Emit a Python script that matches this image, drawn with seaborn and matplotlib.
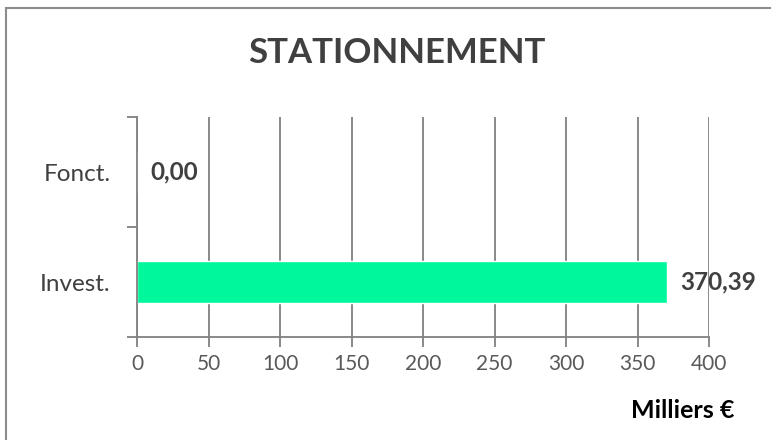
import matplotlib
matplotlib.use("Agg")
import matplotlib.pyplot as plt
import matplotlib.patches as mpatches
import seaborn as sns
import pandas as pd

categories = ["Fonct.", "Invest."]
values = [0.00, 370.39]
value_labels = ["0,00", "370,39"]
x_ticks = [0, 50, 100, 150, 200, 250, 300, 350, 400]

sns.set_theme(style="white")
plt.rcParams["font.family"] = ["Lato", "DejaVu Sans"]

df = pd.DataFrame({"cat": categories, "val": values})

fig = plt.figure(figsize=(7.71, 4.40), dpi=100)
ax = fig.add_axes([0.1777, 0.234, 0.7419, 0.500])

sns.barplot(data=df, x="val", y="cat", orient="h", color="#00F79B",
            saturation=1, width=0.38, ax=ax)

ax.set_xlim(0, 400)
ax.set_ylim(1.5, -0.5)
ax.set_xticks(x_ticks)
ax.set_xticklabels([str(t) for t in x_ticks], fontsize=15, color="#595959")
ax.set_yticks([-0.5, 0.5, 1.5], minor=False)
ax.set_yticklabels([])
ax.set_yticks([0, 1], minor=True)
ax.set_yticklabels(categories, minor=True, fontsize=17.5, color="#404040")
ax.tick_params(axis="y", which="minor", length=0, pad=19)
ax.tick_params(axis="y", which="major", length=7, width=1.3, color="#808080",
               direction="out", left=True)
ax.tick_params(axis="x", length=7, width=1.3, color="#808080",
               direction="out", bottom=True, pad=5)

ax.grid(axis="x", color="#808080", linewidth=1.3)
ax.set_axisbelow(True)
for side in ["top", "right"]:
    ax.spines[side].set_visible(False)
for side in ["left", "bottom"]:
    ax.spines[side].set_color("#808080")
    ax.spines[side].set_linewidth(1.3)
ax.set_xlabel("")
ax.set_ylabel("")

# value labels next to each bar
for i, (v, lab) in enumerate(zip(values, value_labels)):
    ax.annotate(lab, xy=(v, i), xytext=(9.5, 0), textcoords="offset points",
                va="center", ha="left", fontsize=17.5, fontweight="bold",
                color="#404040")

fig.text(0.515, 0.88, "STATIONNEMENT", ha="center", va="center",
         fontsize=25, fontweight="bold", color="#404040")
fig.text(0.953, 0.068, "Milliers €", ha="right", va="center",
         fontsize=18, fontweight="bold", color="#000000")

# chart frame
fig.patches.append(mpatches.Rectangle((6 / 771, -0.05), 1.1, 1 - 8 / 440 + 0.05,
                                      transform=fig.transFigure, fill=False,
                                      edgecolor="#8c8c8c", linewidth=1.5))

fig.savefig("out.png", dpi=100)
